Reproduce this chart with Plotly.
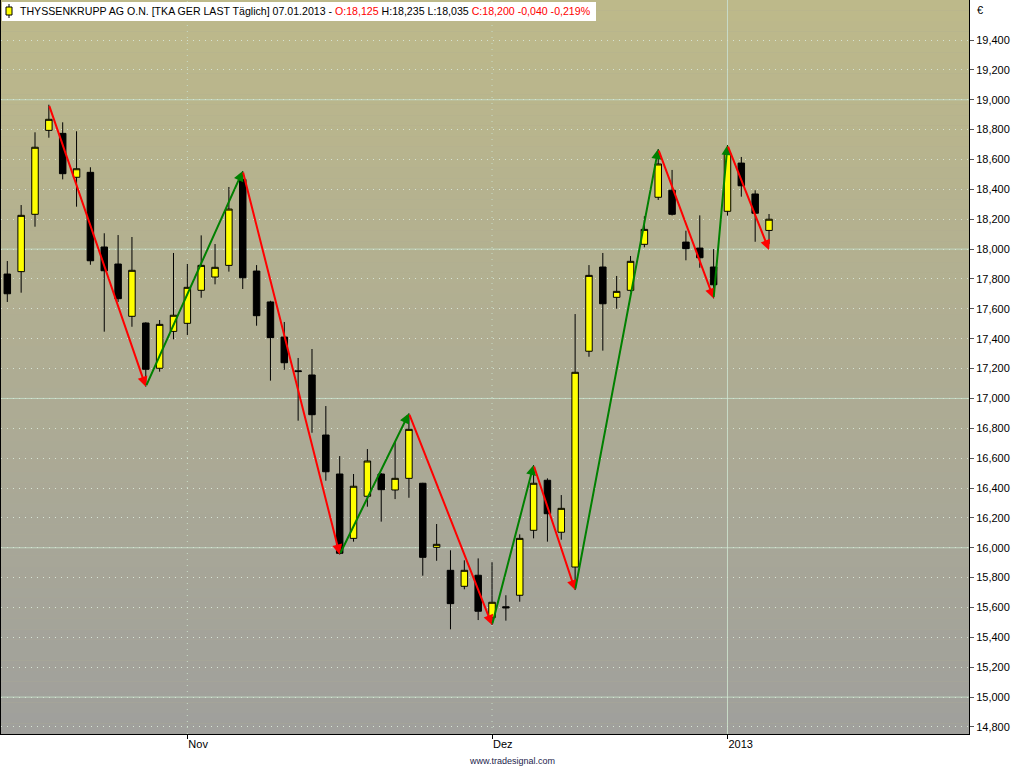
import plotly.graph_objects as go

# daily candles, THYSSENKRUPP AG O.N. (Xetra), 15.10.2012 - 07.01.2013
dates = [
    '2012-10-15', '2012-10-16', '2012-10-17', '2012-10-18', '2012-10-19',
    '2012-10-22', '2012-10-23', '2012-10-24', '2012-10-25', '2012-10-26',
    '2012-10-29', '2012-10-30', '2012-10-31', '2012-11-01', '2012-11-02',
    '2012-11-05', '2012-11-06', '2012-11-07', '2012-11-08', '2012-11-09',
    '2012-11-12', '2012-11-13', '2012-11-14', '2012-11-15', '2012-11-16',
    '2012-11-19', '2012-11-20', '2012-11-21', '2012-11-22', '2012-11-23',
    '2012-11-26', '2012-11-27', '2012-11-28', '2012-11-29', '2012-11-30',
    '2012-12-03', '2012-12-04', '2012-12-05', '2012-12-06', '2012-12-07',
    '2012-12-10', '2012-12-11', '2012-12-12', '2012-12-13', '2012-12-14',
    '2012-12-17', '2012-12-18', '2012-12-19', '2012-12-20', '2012-12-21',
    '2012-12-27', '2012-12-28', '2013-01-02', '2013-01-03', '2013-01-04',
    '2013-01-07',
]
open_ = [
    17.833, 17.849, 18.233, 18.795, 18.775, 18.481, 18.514, 18.014, 17.900, 17.550,
    17.505, 17.202, 17.449, 17.503, 17.724, 17.813, 17.891, 18.467, 17.853, 17.646,
    17.411, 17.185, 17.157, 16.755, 16.494, 16.063, 16.345, 16.494, 16.387, 16.465,
    16.432, 16.003, 15.849, 15.742, 15.816, 15.532, 15.605, 15.682, 16.117, 16.452,
    16.104, 15.871, 17.316, 17.880, 17.677, 17.724, 18.032, 18.347, 18.394, 18.047,
    18.007, 17.880, 18.253, 18.576, 18.369, 18.125,
]
high = [
    17.920, 18.295, 18.782, 18.967, 18.849, 18.789, 18.548, 18.106, 18.094, 18.081,
    17.510, 17.525, 17.974, 17.900, 18.092, 18.034, 18.416, 18.523, 17.893, 17.654,
    17.512, 17.271, 17.331, 16.949, 16.614, 16.494, 16.661, 16.500, 16.710, 16.900,
    16.435, 16.159, 15.983, 15.916, 15.929, 15.903, 15.682, 16.090, 16.554, 16.465,
    16.353, 17.565, 17.893, 17.974, 17.820, 17.954, 18.220, 18.670, 18.530, 18.123,
    18.226, 18.000, 18.697, 18.617, 18.394, 18.235,
]
low = [
    17.646, 17.708, 18.150, 18.746, 18.467, 18.284, 17.895, 17.447, 17.646, 17.480,
    17.079, 17.179, 17.396, 17.425, 17.674, 17.764, 17.849, 17.733, 17.487, 17.119,
    17.192, 16.851, 16.770, 16.449, 15.955, 16.041, 16.275, 16.175, 16.326, 16.335,
    15.813, 15.913, 15.454, 15.722, 15.516, 15.483, 15.512, 15.639, 16.063, 16.041,
    16.054, 15.717, 17.279, 17.320, 17.601, 17.715, 18.012, 18.329, 18.225, 17.925,
    17.875, 17.670, 18.224, 18.351, 18.049, 18.035,
]
close = [
    17.701, 18.226, 18.682, 18.869, 18.505, 18.538, 17.922, 17.855, 17.668, 17.858,
    17.195, 17.496, 17.557, 17.744, 17.891, 17.878, 18.268, 17.808, 17.554, 17.407,
    17.239, 17.180, 16.891, 16.509, 15.963, 16.412, 16.581, 16.389, 16.465, 16.793,
    15.936, 16.023, 15.626, 15.849, 15.575, 15.635, 15.598, 16.063, 16.432, 16.228,
    16.264, 17.175, 17.824, 17.634, 17.717, 17.918, 18.132, 18.570, 18.233, 18.003,
    17.942, 17.761, 18.641, 18.424, 18.240, 18.200,
]

# zigzag swing points (candle index, price); last one is the projected target
zz_idx = [3, 10, 17, 24, 29, 35, 38, 41, 47, 51, 52, 55]
zz_price = [18.967, 17.079, 18.523, 15.955, 16.900, 15.483, 16.554, 15.717,
            18.670, 17.670, 18.697, 17.994]

month_ticks = [13, 35, 52]
month_labels = ['Nov', 'Dez', '2013']
y_ticks = [14.8 + 0.2 * i for i in range(24)]
y_major = [15.0, 16.0, 17.0, 18.0, 19.0]

PLOT_L, PLOT_R, PLOT_B = 1, 969, 734
DOTS = '1px,5px'


def px_x(px):
    return (px - PLOT_L) / (PLOT_R - PLOT_L)


def px_y(py):
    return (PLOT_B - py) / PLOT_B


def de_num(v, nd=3):
    return f'{v:.{nd}f}'.replace('.', ',')


fig = go.Figure()
fig.add_trace(go.Candlestick(
    x=dates, open=open_, high=high, low=low, close=close,
    increasing=dict(fillcolor='#ffff00', line=dict(color='black', width=1)),
    decreasing=dict(fillcolor='black', line=dict(color='black', width=1)),
    whiskerwidth=0, showlegend=False, hoverinfo='skip',
))

shapes = []
# background gradient, khaki on top to grey at the bottom
n_bands = 70
top_rgb, bot_rgb = (189, 185, 138), (160, 160, 156)
for i in range(n_bands):
    t = i / (n_bands - 1)
    c = tuple(round(top_rgb[k] + (bot_rgb[k] - top_rgb[k]) * t) for k in range(3))
    shapes.append(dict(type='rect', xref='paper', yref='paper', x0=0, x1=1,
                       y0=1 - (i + 1) / n_bands, y1=1 - i / n_bands,
                       fillcolor='rgb(%d,%d,%d)' % c, line=dict(width=0), layer='below'))

for yv in y_major:
    shapes.append(dict(type='line', xref='paper', yref='y', x0=0, x1=1, y0=yv, y1=yv,
                       line=dict(color='#c2d8c2', width=1), layer='between'))
for i, lab in zip(month_ticks, month_labels):
    dash = 'solid' if lab.isdigit() else DOTS
    shapes.append(dict(type='line', xref='x', yref='paper', x0=dates[i], x1=dates[i],
                       y0=0, y1=1, line=dict(color='#c8dcc8', width=1, dash=dash),
                       layer='between'))

# title box and its small yellow candle icon
shapes.append(dict(type='rect', xref='paper', yref='paper', x0=px_x(2), x1=px_x(596),
                   y0=px_y(21), y1=px_y(2), fillcolor='white', line=dict(width=0)))
shapes.append(dict(type='line', xref='paper', yref='paper', x0=px_x(9), x1=px_x(9),
                   y0=px_y(18), y1=px_y(4), line=dict(color='black', width=1)))
shapes.append(dict(type='rect', xref='paper', yref='paper', x0=px_x(6), x1=px_x(12),
                   y0=px_y(15), y1=px_y(7), fillcolor='#ffff00',
                   line=dict(color='black', width=1)))

annotations = []
for k in range(len(zz_idx) - 1):
    up = zz_price[k + 1] > zz_price[k]
    annotations.append(dict(
        x=zz_idx[k + 1], y=zz_price[k + 1], ax=zz_idx[k], ay=zz_price[k],
        xref='x', yref='y', axref='x', ayref='y', text='', showarrow=True,
        arrowhead=2, arrowsize=1, arrowwidth=2, standoff=0,
        arrowcolor='#008000' if up else '#ff0000'))

chg = close[-1] - close[-2]
pct = chg / close[-2] * 100
title = ('THYSSENKRUPP AG O.N. [TKA GER LAST Täglich] 07.01.2013 - '
         + f'<span style="color:#ff0000">O:{de_num(open_[-1])}</span> '
         + f'H:{de_num(high[-1])} L:{de_num(low[-1])} '
         + f'<span style="color:#ff0000">C:{de_num(close[-1])} {de_num(chg)} '
         + f'{de_num(pct)}%</span>')
annotations.append(dict(x=px_x(18), y=px_y(11.5), xref='paper', yref='paper',
                        xanchor='left', yanchor='middle', text=title, showarrow=False,
                        font=dict(family='Liberation Sans', size=10.6, color='black')))
annotations.append(dict(x=px_x(975), y=px_y(10), xref='paper', yref='paper',
                        xanchor='left', yanchor='middle', text='€', showarrow=False,
                        font=dict(family='Liberation Sans', size=11, color='black')))
annotations.append(dict(x=px_x(512), y=px_y(761), xref='paper', yref='paper',
                        xanchor='center', yanchor='middle', text='www.tradesignal.com',
                        showarrow=False,
                        font=dict(family='Liberation Sans', size=9, color='#1c1c4c')))

fig.update_layout(
    width=1024, height=768,
    margin=dict(l=PLOT_L, r=1024 - PLOT_R, t=0, b=768 - PLOT_B),
    paper_bgcolor='white', plot_bgcolor='rgb(175,172,147)',
    separators=',.', boxgap=0.33,
    font=dict(family='Liberation Sans', size=11, color='black'),
    shapes=shapes, annotations=annotations,
    xaxis=dict(
        type='category', categoryorder='array', categoryarray=dates,
        range=[-0.455, 69.44], rangeslider=dict(visible=False),
        tickvals=[dates[i] for i in month_ticks], ticktext=month_labels,
        ticks='outside', ticklen=4, tickcolor='black', ticklabelposition='outside right',
        showgrid=False, showline=True, linecolor='black', linewidth=1,
        tickfont=dict(size=11), fixedrange=True,
    ),
    yaxis=dict(
        side='right', range=[14.753, 19.668], tickvals=y_ticks, tickformat='.3f',
        ticks='outside', ticklen=4, tickcolor='#555555',
        showgrid=True, gridcolor='#d6e4d4', griddash=DOTS, gridwidth=1,
        zeroline=False, showline=True, linecolor='black', linewidth=1, mirror=True,
        tickfont=dict(size=11), fixedrange=True,
    ),
)

# the page body has an 8px default margin; drop it so the chart sits at 0,0
fig.write_html('out.html', config={'displayModeBar': False},
               post_script="document.body.style.margin = '0';")
